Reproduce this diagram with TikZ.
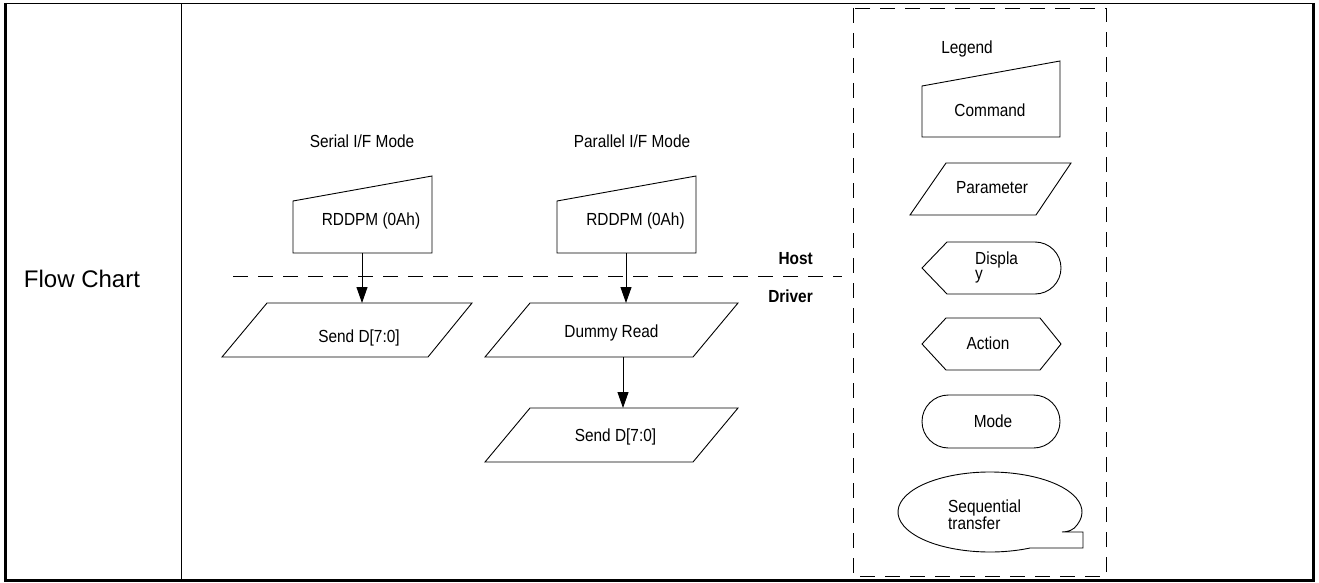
\documentclass[tikz,border=0pt]{standalone}
\usepackage{fontspec}
\setmainfont{Liberation Sans}
\newfontfamily\condfont{Liberation Sans}[FakeStretch=0.88]
\usetikzlibrary{arrows.meta,calc}
\begin{document}
\begin{tikzpicture}[x=1pt,y=-1pt,
  shp/.style={draw=black, line width=0.9pt, line join=miter},
  txt/.style={font=\condfont\fontsize{17.5}{17}\selectfont, inner sep=0pt, anchor=base},
  lbl/.style={font=\condfont\fontsize{17.5}{17}\selectfont\bfseries, inner sep=0pt, anchor=base east},
  arr/.style={line width=0.9pt, -{Triangle[length=16pt,width=11pt]}},
  dsh/.style={line width=0.9pt, dash pattern=on 15pt off 10pt},
]
\useasboundingbox (0,0) rectangle (1319,583);
% table frame
\draw[line width=1pt] (4,3.5) -- (1315,3.5);
\draw[line width=3pt] (5.5,3) -- (5.5,582);
\draw[line width=3pt] (4,580.5) -- (1315,580.5);
\draw[line width=3pt] (1313.5,3) -- (1313.5,582);
\draw[line width=1pt] (181.5,3.5) -- (181.5,579);
\node[font=\fontsize{24}{26}\selectfont, inner sep=0pt, anchor=base] (fc) at (82,287) {Flow Chart};

% host / driver separator
\coordinate (hl) at (233,276);
\coordinate (hr) at (842,276);
\draw[dsh] (hl) -- (hr);
\node[lbl] (host) at (813,264) {Host};
\node[lbl] (driver) at (813,302) {Driver};

% serial column
\node[txt] (sertitle) at (362,147) {Serial I/F Mode};
\draw[shp] (293,201) -- (432,176) -- (432,253) -- (293,253) -- cycle;
\node[txt] (scmd) at (371,225) {RDDPM (0Ah)};
\draw[shp] (222,357) -- (267,303) -- (472,303) -- (428,357) -- cycle;
\node[txt] (ssend) at (359,342) {Send D[7:0]};
\coordinate (sa1) at (362,253);
\coordinate (sa2) at (362,303);
\draw[arr] (sa1) -- (sa2);

% parallel column
\node[txt] (partitle) at (632,147) {Parallel I/F Mode};
\draw[shp] (557,201) -- (696,176) -- (696,253) -- (557,253) -- cycle;
\node[txt] (pcmd) at (635.5,225) {RDDPM (0Ah)};
\draw[shp] (485,357) -- (530,303) -- (738,303) -- (693,357) -- cycle;
\node[txt] (pdummy) at (611.5,337) {Dummy Read};
\draw[shp] (485,462) -- (530,408) -- (738,408) -- (693,462) -- cycle;
\node[txt] (psend) at (615.5,441) {Send D[7:0]};
\coordinate (pa1) at (626,253);
\coordinate (pa2) at (626,303);
\coordinate (pb1) at (623,357);
\coordinate (pb2) at (623,408);
\draw[arr] (pa1) -- (pa2);
\draw[arr] (pb1) -- (pb2);

% legend
\draw[dsh] (853,8) rectangle (1106,576);
\node[txt] (legend) at (967,54) {Legend};
\draw[shp] (922,86) -- (1060,61) -- (1060,137) -- (922,137) -- cycle;
\node[txt] (lcmd) at (990,117) {Command};
\draw[shp] (910,215) -- (946,163) -- (1071,163) -- (1036,215) -- cycle;
\node[txt] (lpar) at (992,193) {Parameter};
\draw[shp] (922,268) -- (947,242) -- (1035,242) arc[start angle=270, end angle=450, radius=26] -- (947,294) -- cycle;
\node[font=\condfont\fontsize{17.5}{15}\selectfont, inner sep=0pt, anchor=west, align=left] (ldisp) at (975,267) {Displa\\y};
\draw[shp] (922,344) -- (946,318) -- (1040,318) -- (1061,344) -- (1040,370) -- (946,370) -- cycle;
\node[txt] (lact) at (988,349) {Action};
\draw[shp, rounded corners=26.5pt] (922,395) rectangle (1060,448);
\node[txt] (lmode) at (993,427) {Mode};
\draw[shp] (1083,548) -- ($(990,512)+(64:92 and 40)$) arc[start angle=64, end angle=378, x radius=92, y radius=40]
  .. controls (1074,530) and (1068,532) .. (1062,532) -- (1083,532) -- cycle;
\node[font=\condfont\fontsize{17.5}{16}\selectfont, inner sep=0pt, anchor=west, align=left] (lseq) at (948,515) {Sequential\\transfer};
\end{tikzpicture}
\end{document}
